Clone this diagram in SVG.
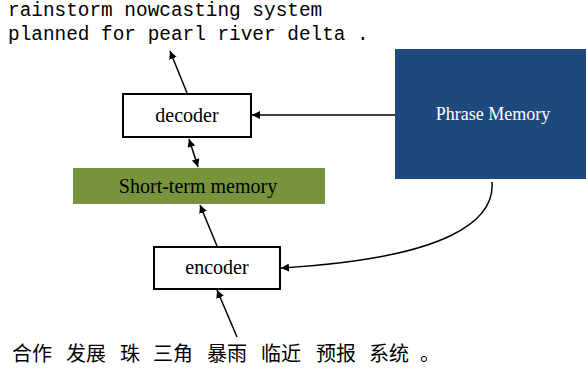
<svg xmlns="http://www.w3.org/2000/svg" width="586" height="370" viewBox="0 0 586 370">
<style>
.box{fill:#fff;stroke:#000;stroke-width:2}
.lbl{font-family:"Liberation Serif",serif;font-size:20px;text-anchor:middle;fill:#000}
.mono{font-family:"Liberation Mono","DejaVu Sans Mono",monospace;font-size:19.4px;fill:#000}
.cjk{font-family:"Noto Sans CJK SC",sans-serif;font-size:20px;fill:#000}
.conn{fill:none;stroke:#000;stroke-width:1.5}
</style>
<defs>
<marker id="ah" viewBox="0 0 10 10" refX="10" refY="5" markerWidth="8" markerHeight="8" markerUnits="userSpaceOnUse" orient="auto-start-reverse">
<path d="M0,0 L10,5 L0,10 z" fill="#000"/>
</marker>
</defs>
<g id="output-text">
<text class="mono" x="8" y="16">rainstorm nowcasting system</text>
<text class="mono" x="8" y="40">planned for pearl river delta .</text>
</g>
<g id="decoder">
<rect class="box" x="123" y="94" width="128" height="43"/>
<text class="lbl" x="187" y="122">decoder</text>
</g>
<g id="short-term-memory">
<rect x="73" y="168" width="252" height="36" fill="#77933c"/>
<text class="lbl" x="198" y="193">Short-term memory</text>
</g>
<g id="phrase-memory">
<rect x="395" y="49" width="192" height="130" fill="#1f497d"/>
<text class="lbl" x="493" y="120" style="fill:#fff;font-size:18px">Phrase Memory</text>
</g>
<g id="encoder">
<rect class="box" x="154" y="247" width="126" height="42"/>
<text class="lbl" x="217" y="274">encoder</text>
</g>
<g id="input-text">
<text class="cjk" x="12" y="361">合作</text>
<text class="cjk" x="66" y="361">发展</text>
<text class="cjk" x="120" y="361">珠</text>
<text class="cjk" x="153" y="361">三角</text>
<text class="cjk" x="207" y="361">暴雨</text>
<text class="cjk" x="261" y="361">临近</text>
<text class="cjk" x="316" y="361">预报</text>
<text class="cjk" x="369" y="361">系统</text>
<text class="cjk" x="420" y="361">。</text>
</g>
<g id="connectors">
<line class="conn" x1="187" y1="93" x2="170" y2="51" marker-end="url(#ah)"/>
<line class="conn" x1="189" y1="139" x2="198" y2="167" marker-start="url(#ah)" marker-end="url(#ah)"/>
<line class="conn" x1="395" y1="115" x2="252" y2="115" marker-end="url(#ah)"/>
<path class="conn" d="M492,182 C495,220 450,258 281,268" marker-end="url(#ah)"/>
<line class="conn" x1="217" y1="246" x2="200" y2="205" marker-end="url(#ah)"/>
<line class="conn" x1="237" y1="337" x2="217" y2="290" marker-end="url(#ah)"/>
</g>
</svg>
